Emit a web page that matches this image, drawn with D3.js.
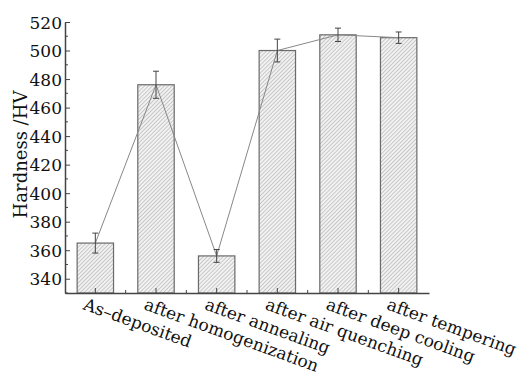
<!DOCTYPE html>
<html>
<head>
<meta charset="utf-8">
<script src="https://cdn.jsdelivr.net/npm/d3@7"></script>
<style>
  body { margin: 0; background: #fff; }
  text { font-family: "DejaVu Serif", serif; fill: #111; }
</style>
</head>
<body>
<div id="viz"></div>
<script>
const categories = ["As–deposited", "after homogenization", "after annealing",
  "after air quenching", "after deep cooling", "after tempering"];
const hardness = [365, 476, 356, 500, 511, 509];
const errors = [7, 9.5, 4.5, 8, 4.7, 4];
const yTicks = [340, 360, 380, 400, 420, 440, 460, 480, 500, 520];
const yMinor = [330, 350, 370, 390, 410, 430, 450, 470, 490, 510];

const width = 520, height = 377;
const margin = { left: 65, right: 91, top: 22, bottom: 84 };

const svg = d3.select("#viz").append("svg")
  .attr("width", width)
  .attr("height", height);

// hatch pattern for bars
const defs = svg.append("defs");
const pat = defs.append("pattern")
  .attr("id", "hatch")
  .attr("patternUnits", "userSpaceOnUse")
  .attr("width", 2.8)
  .attr("height", 2.8)
  .attr("patternTransform", "rotate(45)");
pat.append("rect").attr("width", 2.8).attr("height", 2.8).attr("fill", "#f2f2f2");
pat.append("line")
  .attr("x1", 0).attr("y1", 0).attr("x2", 0).attr("y2", 2.8)
  .attr("stroke", "#a0a0a0").attr("stroke-width", 1);

const x = d3.scaleBand()
  .domain(categories)
  .range([margin.left, width - margin.right])
  .paddingInner(0.4)
  .paddingOuter(0.2);

const y = d3.scaleLinear()
  .domain([330, 520])
  .range([height - margin.bottom, margin.top]);

// bars
svg.selectAll("rect.bar")
  .data(categories)
  .join("rect")
  .attr("class", "bar")
  .attr("x", d => x(d))
  .attr("y", (d, i) => y(hardness[i]))
  .attr("width", x.bandwidth())
  .attr("height", (d, i) => y(330) - y(hardness[i]))
  .attr("fill", "url(#hatch)")
  .attr("stroke", "#6a6a6a")
  .attr("stroke-width", 1.2);

// connecting line
const line = d3.line()
  .x((d, i) => x(categories[i]) + x.bandwidth() / 2)
  .y(d => y(d));
svg.append("path")
  .datum(hardness)
  .attr("d", line)
  .attr("fill", "none")
  .attr("stroke", "#888")
  .attr("stroke-width", 1);

// error bars
const eb = svg.append("g").attr("stroke", "#444").attr("stroke-width", 1);
categories.forEach((c, i) => {
  const cx = x(c) + x.bandwidth() / 2;
  const top = y(hardness[i] + errors[i]);
  const bot = y(hardness[i] - errors[i]);
  eb.append("line").attr("x1", cx).attr("x2", cx).attr("y1", top).attr("y2", bot);
  eb.append("line").attr("x1", cx - 3).attr("x2", cx + 3).attr("y1", top).attr("y2", top);
  eb.append("line").attr("x1", cx - 3).attr("x2", cx + 3).attr("y1", bot).attr("y2", bot);
});

// y axis
const yAxis = svg.append("g")
  .attr("transform", `translate(${margin.left},0)`)
  .call(d3.axisLeft(y).tickValues(yTicks).tickSize(-5).tickPadding(3).tickSizeOuter(0));
yAxis.select(".domain").attr("stroke", "#444").attr("stroke-width", 1.5);
yAxis.selectAll(".tick line").attr("stroke", "#444");
yAxis.selectAll("text").style("font-size", "17px").attr("dy", "0.36em");
yAxis.selectAll(".minor")
  .data(yMinor)
  .join("line")
  .attr("class", "minor")
  .attr("x1", 0).attr("x2", 3)
  .attr("y1", d => y(d)).attr("y2", d => y(d))
  .attr("stroke", "#444");

// x axis
const xAxis = svg.append("g")
  .attr("transform", `translate(0,${height - margin.bottom})`)
  .call(d3.axisBottom(x).tickSize(-5).tickSizeOuter(0).tickFormat(""));
xAxis.select(".domain").attr("stroke", "#444").attr("stroke-width", 1.5);
xAxis.selectAll(".tick line").attr("stroke", "#444");
xAxis.selectAll(".minor")
  .data(categories.slice(1))
  .join("line")
  .attr("class", "minor")
  .attr("x1", d => x(d) - x.step() * x.paddingInner() / 2)
  .attr("x2", d => x(d) - x.step() * x.paddingInner() / 2)
  .attr("y1", 0).attr("y2", -3)
  .attr("stroke", "#444");

// rotated category labels
svg.append("g").selectAll("text")
  .data(categories)
  .join("text")
  .attr("transform", d => `translate(${x(d) + x.bandwidth() / 2 - 13},${height - margin.bottom + 16}) rotate(20)`)
  .style("font-size", "17px")
  .text(d => d);

// y label
svg.append("text")
  .attr("transform", `translate(27,${(margin.top + height - margin.bottom) / 2 - 3}) rotate(-90)`)
  .attr("text-anchor", "middle")
  .style("font-size", "18px")
  .text("Hardness /HV");
</script>
</body>
</html>
